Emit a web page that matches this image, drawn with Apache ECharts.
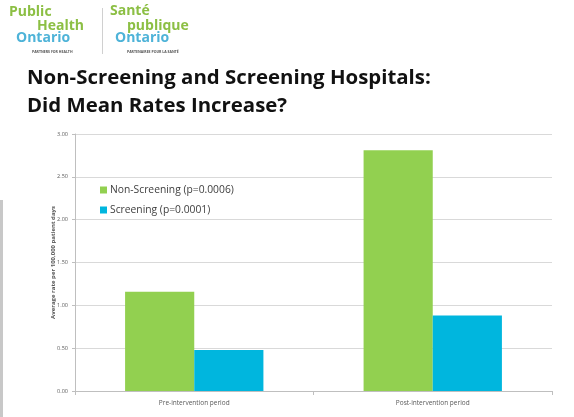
<!DOCTYPE html>
<html>
<head>
<meta charset="utf-8">
<script src="https://cdn.jsdelivr.net/npm/echarts@6/dist/echarts.min.js"></script>
<style>
html,body{margin:0;padding:0;background:#fff;}
#chart{width:574px;height:417px;}
</style>
</head>
<body>
<div id="chart"></div>
<script>
// Periods compared and the mean rate per 100,000 patient days
const categories = ['Pre-intervention period', 'Post-intervention period'];
const nonScreening = [1.16, 2.81];
const screening = [0.48, 0.88];
const seriesNames = ['Non-Screening (p=0.0006)', 'Screening (p=0.0001)'];
const yTicks = [0, 0.5, 1, 1.5, 2, 2.5, 3];

const GREEN = '#92D050';
const CYAN = '#00B6DE';
const FONT = '"Open Sans", "Liberation Sans", sans-serif';

const chart = echarts.init(document.getElementById('chart'), null, {renderer: 'canvas'});

chart.setOption({
  backgroundColor: '#ffffff',
  animation: false,
  grid: {left: 75, right: 22, top: 134, bottom: 26, containLabel: false},
  legend: {
    orient: 'vertical',
    left: 95,
    top: 180,
    itemWidth: 7,
    itemHeight: 7,
    itemGap: 10,
    icon: 'rect',
    textStyle: {fontFamily: FONT, fontSize: 10.3, color: '#404040', padding: [0, 0, 0, -2]},
    data: seriesNames
  },
  xAxis: {
    type: 'category',
    data: categories,
    axisLine: {lineStyle: {color: '#BFBFBF', width: 1}},
    axisTick: {show: true, length: 4, lineStyle: {color: '#BFBFBF'}},
    axisLabel: {fontFamily: FONT, fontSize: 6.5, color: '#595959', margin: 9}
  },
  yAxis: {
    type: 'value',
    min: 0,
    max: 3,
    interval: 0.5,
    name: 'Average rate per 100,000 patient days',
    nameLocation: 'middle',
    nameGap: 19,
    nameMoveOverlap: false,
    nameRotate: 90,
    nameTextStyle: {fontFamily: FONT, fontSize: 6, fontWeight: 'bold', color: '#595959'},
    axisLine: {show: true, lineStyle: {color: '#BFBFBF', width: 1}},
    axisTick: {show: true, length: 3, inside: false, lineStyle: {color: '#BFBFBF'}},
    splitLine: {lineStyle: {color: '#D9D9D9', width: 1}},
    axisLabel: {
      fontFamily: FONT, fontSize: 5.5, color: '#595959', margin: 7,
      formatter: v => yTicks.includes(v) ? v.toFixed(2) : ''
    }
  },
  series: [
    {
      name: seriesNames[0],
      type: 'bar',
      data: nonScreening,
      barGap: '0%',
      barCategoryGap: '42%',
      itemStyle: {color: GREEN}
    },
    {
      name: seriesNames[1],
      type: 'bar',
      data: screening,
      barGap: '0%',
      barCategoryGap: '42%',
      itemStyle: {color: CYAN}
    }
  ],
  graphic: [
    // thin grey edge strip on the left
    {type: 'rect', left: 0, top: 200, shape: {width: 3, height: 217}, style: {fill: '#C8C8C8'}},
    // bilingual logo
    {type: 'text', left: 9, top: 5, style: {text: 'Public', fontFamily: FONT, fontSize: 14, fontWeight: 'bold', fill: '#8CBF44'}},
    {type: 'text', left: 37, top: 19, style: {text: 'Health', fontFamily: FONT, fontSize: 14, fontWeight: 'bold', fill: '#8CBF44'}},
    {type: 'text', left: 16, top: 31, style: {text: 'Ontario', fontFamily: FONT, fontSize: 14, fontWeight: 'bold', fill: '#4EB3D8'}},
    {type: 'text', left: 32, top: 50, style: {text: 'PARTNERS FOR HEALTH', fontFamily: FONT, fontSize: 3.5, fontWeight: 'bold', fill: '#555'}},
    {type: 'rect', left: 102, top: 8, shape: {width: 1, height: 46}, style: {fill: '#D0D0D0'}},
    {type: 'text', left: 110, top: 4, style: {text: 'Santé', fontFamily: FONT, fontSize: 14, fontWeight: 'bold', fill: '#8CBF44'}},
    {type: 'text', left: 127, top: 19, style: {text: 'publique', fontFamily: FONT, fontSize: 14, fontWeight: 'bold', fill: '#8CBF44'}},
    {type: 'text', left: 115, top: 31, style: {text: 'Ontario', fontFamily: FONT, fontSize: 14, fontWeight: 'bold', fill: '#4EB3D8'}},
    {type: 'text', left: 127, top: 50, style: {text: 'PARTENAIRES POUR LA SANTÉ', fontFamily: FONT, fontSize: 3.5, fontWeight: 'bold', fill: '#555'}},
    // slide heading
    {type: 'text', left: 27, top: 68, style: {text: 'Non-Screening and Screening Hospitals:', fontFamily: FONT, fontSize: 20.4, fontWeight: 'bold', fill: '#111'}},
    {type: 'text', left: 27, top: 96, style: {text: 'Did Mean Rates Increase?', fontFamily: FONT, fontSize: 20.4, fontWeight: 'bold', fill: '#111'}}
  ]
});
</script>
</body>
</html>
